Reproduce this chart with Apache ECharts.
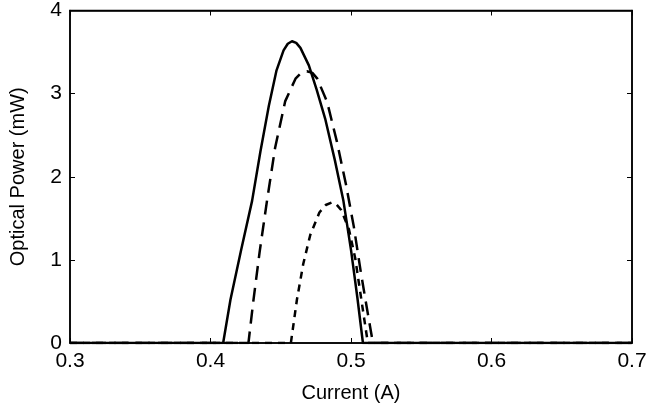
<!DOCTYPE html>
<html>
<head>
<meta charset="utf-8" />
<style>
  html, body { margin: 0; padding: 0; background: #fff; }
  #chart { width: 650px; height: 419px; }
</style>
</head>
<body>
<div id="chart"></div>
<script src="https://cdn.jsdelivr.net/npm/echarts@6/dist/echarts.min.js"></script>
<script>
// [current A, optical power mW]
var solidCurve = [[0.3,0],[0.409,0],[0.4142,0.52],[0.4218,1.12],[0.4296,1.71],[0.4355,2.3],[0.4415,2.85],[0.447,3.28],[0.452,3.52],[0.455,3.6],[0.458,3.63],[0.461,3.61],[0.464,3.55],[0.470,3.34],[0.4755,3.05],[0.4816,2.7],[0.4885,2.2],[0.4946,1.71],[0.5,1.12],[0.5045,0.55],[0.5085,0],[0.7,0]];
var dashedCurve = [[0.3,0],[0.427,0],[0.4306,0.52],[0.435,1.1],[0.4402,1.71],[0.446,2.35],[0.4532,2.91],[0.4605,3.18],[0.4645,3.25],[0.4686,3.27],[0.4725,3.25],[0.476,3.18],[0.483,2.9],[0.49,2.42],[0.4965,1.9],[0.502,1.4],[0.507,0.85],[0.5115,0.4],[0.5156,0],[0.7,0]];
var dottedCurve = [[0.3,0],[0.4572,0],[0.4615,0.52],[0.466,0.95],[0.471,1.3],[0.4775,1.57],[0.482,1.66],[0.4863,1.69],[0.4895,1.67],[0.493,1.6],[0.4985,1.37],[0.503,1.02],[0.5065,0.62],[0.5095,0.28],[0.512,0],[0.7,0]];

var font = 'Liberation Sans, Arial, sans-serif';
function axisBase(show) {
  return {
    axisLine: { show: true, onZero: false, lineStyle: { color: '#000', width: 1.5 } },
    axisTick: { show: true, inside: true, length: 5, lineStyle: { color: '#000' } },
    axisLabel: { show: show, color: '#000', fontSize: 21, fontFamily: font },
    splitLine: { show: false }
  };
}
var xb = axisBase(true), xt = axisBase(false), yl = axisBase(true), yr = axisBase(false);
function line(data, type) {
  return {
    type: 'line', data: data, showSymbol: false, smooth: false,
    lineStyle: { color: '#000', width: 2.5, type: type, join: 'round' }
  };
}
var chart = echarts.init(document.getElementById('chart'));
chart.setOption({
  backgroundColor: '#fff',
  animation: false,
  grid: { left: 69, right: 18, top: 9, bottom: 76, show: true, borderColor: '#000', borderWidth: 1.5 },
  xAxis: [
    Object.assign(xb, { type: 'value', min: 0.3, max: 0.7, interval: 0.1, position: 'bottom',
      name: 'Current (A)', nameLocation: 'middle', nameGap: 40,
      nameTextStyle: { color: '#000', fontSize: 20, fontFamily: font } }),
    Object.assign(xt, { type: 'value', min: 0.3, max: 0.7, interval: 0.1, position: 'top' })
  ],
  yAxis: [
    Object.assign(yl, { type: 'value', min: 0, max: 4, interval: 1, position: 'left',
      name: 'Optical Power (mW)', nameLocation: 'middle', nameGap: 42,
      nameTextStyle: { color: '#000', fontSize: 20, fontFamily: font } }),
    Object.assign(yr, { type: 'value', min: 0, max: 4, interval: 1, position: 'right' })
  ],
  series: [
    line(solidCurve, 'solid'),
    line(dashedCurve, [14, 8]),
    line(dottedCurve, [7, 6])
  ]
});
</script>
</body>
</html>
